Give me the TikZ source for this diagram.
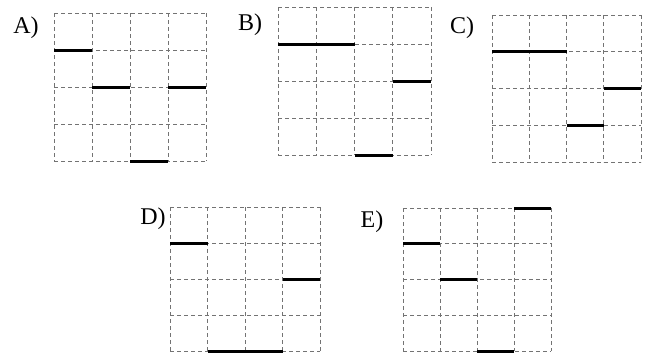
\documentclass[tikz,border=0pt]{standalone}
\usepackage{fontspec}
\setmainfont{Liberation Serif}
\begin{document}
\begin{tikzpicture}[x=1pt,y=-1pt,
  gridline/.style={draw=black!55,line width=0.8pt,dash pattern=on 4pt off 3pt},
  bar/.style={draw=black,line width=3pt},
  lbl/.style={font=\fontsize{24}{26}\selectfont,inner sep=0pt}]
\useasboundingbox (0,0) rectangle (655,356);
% A
\node[lbl] (la) at (26,28) {A)};
\begin{scope}[shift={(54,13)},x=38pt,y=-37pt]
  \foreach \i in {0,...,4} {\draw[gridline] (\i,0)--(\i,4); \draw[gridline] (0,\i)--(4,\i);}
  \draw[bar] (0,1)--(1,1) (1,2)--(2,2) (3,2)--(4,2) (2,4)--(3,4);
\end{scope}
% B
\node[lbl] (lb) at (250,25) {B)};
\begin{scope}[shift={(278,7)},x=38.25pt,y=-37pt]
  \foreach \i in {0,...,4} {\draw[gridline] (\i,0)--(\i,4); \draw[gridline] (0,\i)--(4,\i);}
  \draw[bar] (0,1)--(2,1) (3,2)--(4,2) (2,4)--(3,4);
\end{scope}
% C
\node[lbl] (lc) at (462,28) {C)};
\begin{scope}[shift={(492,15)},x=37.25pt,y=-36.75pt]
  \foreach \i in {0,...,4} {\draw[gridline] (\i,0)--(\i,4); \draw[gridline] (0,\i)--(4,\i);}
  \draw[bar] (0,1)--(2,1) (3,2)--(4,2) (2,3)--(3,3);
\end{scope}
% D
\node[lbl] (ld) at (153,219) {D)};
\begin{scope}[shift={(170,207)},x=37.5pt,y=-36pt]
  \foreach \i in {0,...,4} {\draw[gridline] (\i,0)--(\i,4); \draw[gridline] (0,\i)--(4,\i);}
  \draw[bar] (0,1)--(1,1) (3,2)--(4,2) (1,4)--(3,4);
\end{scope}
% E
\node[lbl] (le) at (372,222) {E)};
\begin{scope}[shift={(403,208)},x=37pt,y=-35.75pt]
  \foreach \i in {0,...,4} {\draw[gridline] (\i,0)--(\i,4); \draw[gridline] (0,\i)--(4,\i);}
  \draw[bar] (3,0)--(4,0) (0,1)--(1,1) (1,2)--(2,2) (2,4)--(3,4);
\end{scope}
\end{tikzpicture}
\end{document}
